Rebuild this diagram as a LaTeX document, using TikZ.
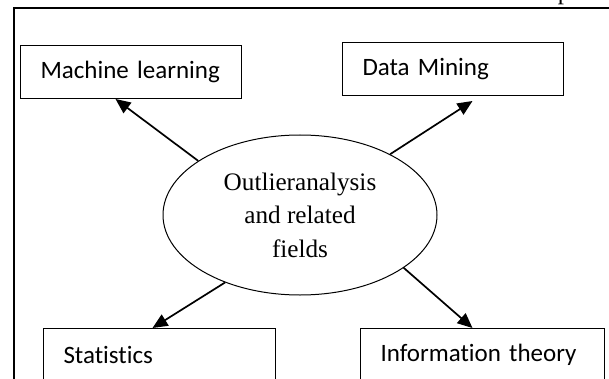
\documentclass[tikz,border=0pt]{standalone}
\usepackage{fontspec}
\setmainfont{Liberation Serif}
\newfontfamily\boxfont[RawFeature={-liga}]{Carlito}
\usetikzlibrary{shapes.geometric,arrows.meta}

\begin{document}
\begin{tikzpicture}[x=0.5pt,y=-0.5pt,
		fieldbox/.style={draw,line width=0.5pt,rectangle,anchor=north west,inner xsep=10pt,inner ysep=0pt,minimum height=26.5pt,align=left,font=\boxfont\fontsize{12.5}{15}\selectfont},
		link/.style={line width=0.85pt,-{Triangle[length=7.5pt,width=6.5pt]}}]
			\useasboundingbox (0,0) rectangle (609,379);
			\clip (0,0) rectangle (609,379);
			\draw [line width=0.6pt] (14,8) rectangle (650,420);
			\node [anchor=base,inner sep=0pt,font=\fontsize{12.5}{15}\selectfont] (pg) at (564,0) {p};
			\node [draw,ellipse,line width=0.5pt,minimum width=137pt,minimum height=80pt,inner sep=0pt,align=center,font=\fontsize{12.6}{16.75}\selectfont] (outlier) at (300,215) {Outlieranalysis\\and related\\fields};
			\node [fieldbox,text width=90.5pt] (ml) at (20,45) {Machine learning};
			\node [fieldbox,text width=90.5pt] (dm) at (342,42) {Data Mining};
			\node [fieldbox,text width=96pt] (stats) at (43,328) {Statistics};
			\node [fieldbox,text width=102pt] (info) at (360,328) {Information theory};
			\draw [link] (outlier.152) -- ([xshift=-7.75pt]ml.south);
			\draw [link] (outlier.34) -- ([xshift=9.75pt,yshift=-2.5pt]dm.south);
			\draw [link] (outlier.222) -- ([xshift=-3.5pt]stats.north);
			\draw [link] (outlier.333) -- ([xshift=-5pt]info.north);
		\end{tikzpicture}
\end{document}
